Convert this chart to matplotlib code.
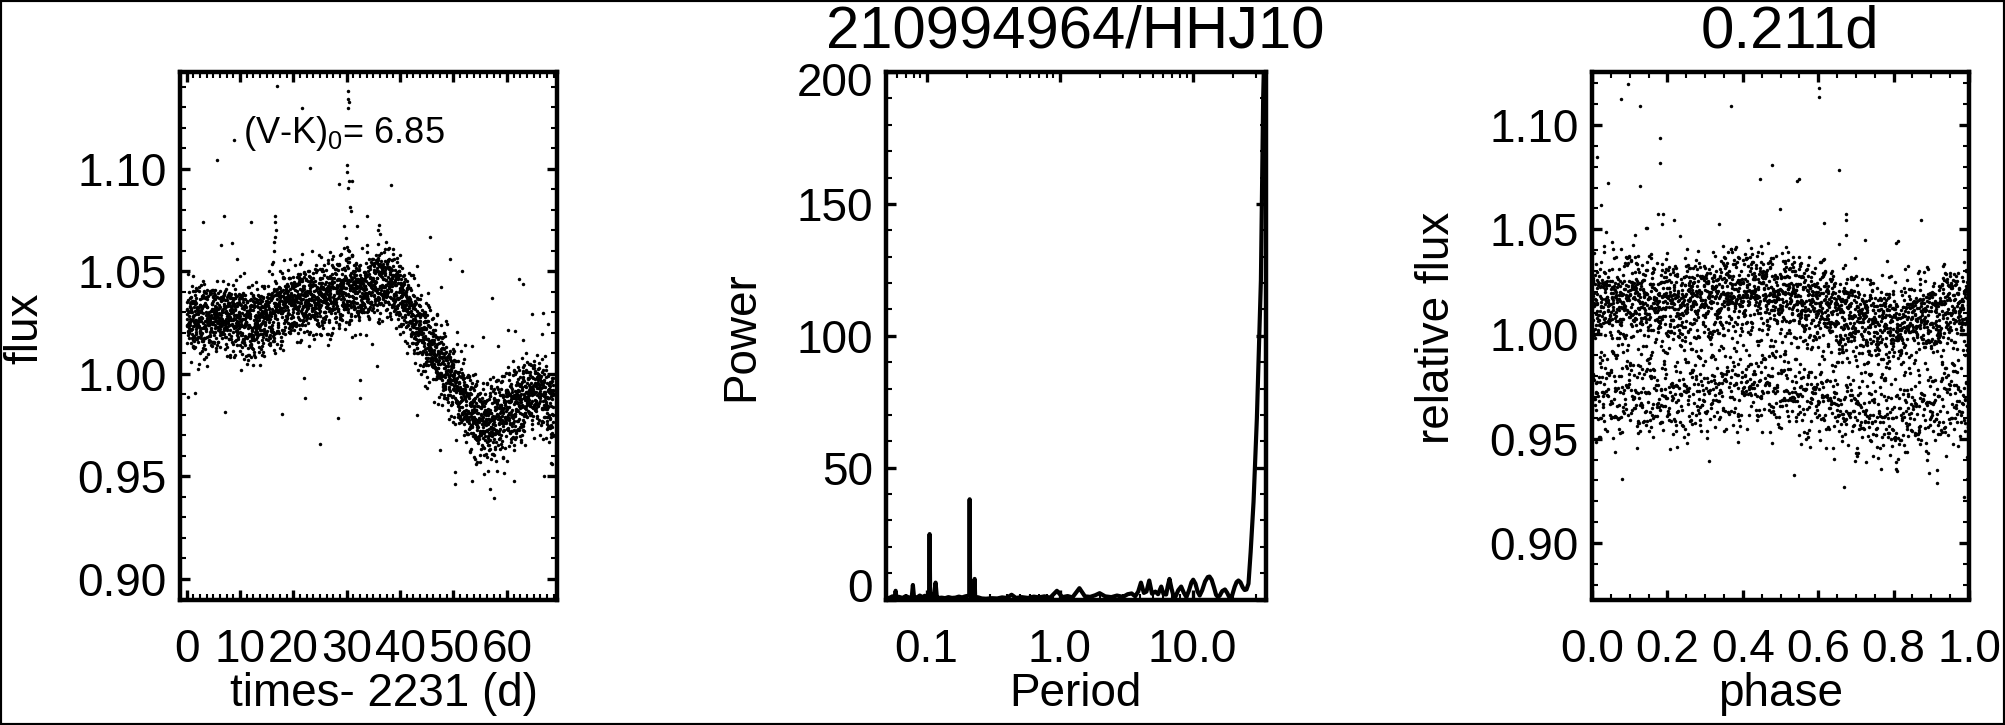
import numpy as np
import matplotlib
matplotlib.use("Agg")
import matplotlib.pyplot as plt
from matplotlib.ticker import MultipleLocator, AutoMinorLocator, FixedLocator, FixedFormatter, LogLocator, NullFormatter
from matplotlib.transforms import ScaledTranslation
from matplotlib.patches import Rectangle

plt.rcParams['font.family'] = ['Liberation Sans', 'DejaVu Sans']
plt.rcParams['mathtext.fontset'] = 'custom'
plt.rcParams['mathtext.rm'] = 'Liberation Sans'

star_name = "210994964/HHJ10"
period_best = 0.211
vk0 = 6.85
t_offset = 2231

# light curve (left panel), K2 long cadence
cadence = 0.0204336
t_start, t_end = 0.0, 68.75
trend_day = [0, 3, 6, 9, 12, 15, 18, 21, 24, 27, 30, 33, 36, 38, 40, 42, 44, 46, 48, 50,
             52, 54, 56, 58, 60, 62, 64, 66, 68, 69]
trend_flux = [1.027, 1.026, 1.028, 1.028, 1.024, 1.028, 1.033, 1.036, 1.036, 1.038, 1.041,
              1.040, 1.045, 1.045, 1.039, 1.030, 1.020, 1.012, 1.004, 0.996,
              0.987, 0.979, 0.976, 0.978, 0.982, 0.985, 0.990, 0.992, 0.985, 0.983]
scatter_day = [0, 44, 48, 69]
scatter_sig = [0.0078, 0.0078, 0.0088, 0.0088]
resid_a = [0.12, -0.85, 1.34, -0.27, 0.56, -1.62, 0.03, 0.91, -0.44, 2.05,
           -0.08, -1.15, 0.38, 0.71, -0.63, 1.58, -0.19, -2.21, 0.47, -0.95,
           0.25, 1.12, -0.36, -0.02, 0.84, -1.38, 0.61, -0.71, 1.87, -0.13,
           0.33, -0.52, -1.01, 0.09, 1.45, -0.29, 0.66, -1.79, 0.18, -0.58,
           1.03, -0.06, -0.89, 0.42, 2.38, -1.24, 0.77, -0.32, 0.15, -0.67,
           1.21, -1.49, 0.52, -0.11, 0.95, -0.41, -2.02, 0.29, 0.64, -0.79,
           1.69, -0.23, 0.06, -1.08, 0.88, -0.48, 1.29, -0.16, -0.74, 0.36,
           -1.31, 0.58, 1.76, -0.04, -0.93, 0.21, -0.55, 1.08, -1.92, 0.44,
           0.01, -0.38, 0.73, -1.19, 1.41, -0.26, 0.99, -0.62, -0.09, 0.27,
           -1.55, 0.81, -0.34, 1.95, -0.81, 0.14, -0.46, 0.69, -1.05, 0.49]
resid_b = [0.41, -1.22, 0.07, 0.93, -0.35, 1.61, -0.72, -0.14, 0.55, -1.87,
           0.26, 1.18, -0.51, 0.02, -0.98, 2.11, -0.21, 0.68, -0.63, 0.34,
           -1.41, 0.87, -0.05, 1.32, -0.84, 0.17, -0.29, 0.61, -1.08, 0.48,
           -0.42, 1.02, -2.05, 0.19, 0.76, -0.57, -0.11]
# 0.211 d modulation seen in the folded panel
phase_grid = [0.0, 0.1, 0.2, 0.3, 0.4, 0.5, 0.6, 0.7, 0.8, 0.9, 1.0]
phase_bump = [0.001, 0.003, 0.000, 0.003, 0.007, 0.005, 0.000, -0.006, -0.010, -0.005, 0.001]
# points off the main band
out_t = [16.9, 30.3, 30.3, 30.4, 21.6, 30.2, 5.7, 8.9, 23.1, 30.0, 30.1, 30.5, 30.2, 30.6,
         30.7, 28.6, 30.9, 38.2, 7.0, 3.0, 12.0, 16.6, 16.6, 16.7, 16.6, 16.4, 16.3, 6.5,
         8.4, 9.4, 33.8, 36.0, 35.9, 36.3, 45.6, 49.4, 51.6, 57.2, 62.2, 63.1, 64.7, 66.7,
         67.8, 60.3, 61.6, 58.4, 55.5, 53.4, 63.1, 45.3, 47.6, 0.3, 1.6, 7.1, 22.2, 32.5,
         32.4, 35.6, 22.0, 17.8, 28.4, 43.1, 24.9, 47.5, 50.2, 50.2, 53.4, 56.9, 57.6,
         67.0, 68.3, 61.4, 31.9, 29.4, 29.8, 30.1, 30.4]
out_f = [1.1402, 1.1380, 1.1338, 1.1326, 1.1296, 1.1296, 1.1045, 1.1140, 1.1006, 1.1017,
         1.0982, 1.0941, 1.0904, 1.0814, 1.0794, 1.0928, 1.0941, 1.0920, 1.0769, 1.0738,
         1.0738, 1.0769, 1.0741, 1.0700, 1.0668, 1.0643, 1.0600, 1.0629, 1.0636, 1.0560,
         1.0769, 1.0725, 1.0700, 1.0680, 1.0665, 1.0562, 1.0502, 1.0372, 1.0460, 1.0440,
         1.0291, 1.0297, 1.0242, 1.0213, 1.0208, 1.0135, 1.0180, 1.0136, 1.0164, 1.0395,
         1.0421, 0.9887, 0.9904, 0.9814, 0.9884, 0.9884, 0.9969, 1.0040, 0.9977, 0.9803,
         0.9782, 0.9798, 0.9658, 0.9628, 0.9522, 0.9461, 0.9477, 0.9439, 0.9393, 0.9500,
         0.9567, 0.9477, 1.0720, 1.0720, 1.0660, 1.0620, 1.0600]

# periodogram (middle panel)
per_period = [0.0496, 0.052, 0.0555, 0.0578, 0.0586, 0.0594, 0.062, 0.066, 0.070, 0.074,
              0.0775, 0.0790, 0.0805, 0.085, 0.089, 0.093, 0.097, 0.101, 0.1045, 0.1055,
              0.1065, 0.110, 0.1135, 0.117, 0.1195, 0.124, 0.130, 0.138, 0.146, 0.155,
              0.165, 0.175, 0.185, 0.196, 0.2095, 0.2110, 0.2125, 0.218, 0.228, 0.230,
              0.232, 0.245, 0.26, 0.28, 0.31, 0.34, 0.37, 0.40, 0.436, 0.47,
              0.52, 0.58, 0.64, 0.70, 0.77, 0.85, 0.955, 1.05, 1.15, 1.25,
              1.41, 1.55, 1.70, 1.85, 2.00, 2.2, 2.45, 2.7, 3.0, 3.25,
              3.48, 3.7, 3.9, 4.09, 4.3, 4.5, 4.72, 4.95, 5.25, 5.5,
              5.81, 6.05, 6.33, 6.5, 6.7, 6.95, 7.2, 7.44, 7.8, 8.2,
              8.6, 8.98, 9.4, 9.8, 10.1, 10.5, 10.9, 11.3, 11.8, 12.4,
              13.0, 13.4, 13.9, 14.5, 15.0, 15.5, 16.0, 16.7, 17.5, 18.2,
              19.1, 19.8, 20.7, 21.4, 22.1, 22.9, 23.8, 24.6, 25.4, 26.3,
              27.3, 28.7, 30.4, 32.6, 33.9, 34.8]
per_power = [0.8, 0.5, 1.2, 0.6, 3.3, 0.6, 1.0, 0.6, 1.3, 0.7,
             1.0, 5.5, 1.0, 0.8, 1.5, 0.9, 1.4, 0.8, 1.2, 24.8,
             1.2, 2.0, 1.0, 6.4, 1.0, 0.6, 0.7, 0.5, 0.9, 0.6,
             0.7, 1.1, 0.8, 1.2, 1.5, 38.0, 1.5, 1.0, 1.0, 7.8,
             1.0, 0.8, 0.4, 0.3, 0.5, 0.4, 0.8, 0.6, 1.8, 0.6,
             0.9, 0.6, 1.1, 0.8, 1.2, 0.7, 3.3, 0.9, 1.3, 0.8,
             4.3, 1.2, 1.0, 1.6, 2.4, 1.2, 0.9, 1.5, 1.0, 2.0,
             2.3, 1.2, 3.0, 6.4, 2.5, 3.0, 7.2, 2.2, 3.0, 2.0,
             4.9, 2.0, 1.9, 5.0, 7.8, 4.0, 1.1, 1.1, 3.5, 4.9,
             2.5, 0.9, 3.5, 6.5, 7.5, 6.0, 3.0, 1.5, 3.5, 6.8,
             8.5, 8.7, 7.5, 4.5, 1.8, 0.9, 1.5, 3.2, 3.8, 2.5,
             0.3, 1.5, 4.8, 6.6, 7.2, 6.5, 4.6, 3.6, 3.8, 6.0,
             18.0, 37.0, 68.6, 121.0, 190.0, 215.0]

# build the light curve and the folded curve
t = np.arange(t_start, t_end, cadence)
k = np.arange(len(t))
ra = np.array(resid_a)[(k * 37) % len(resid_a)]
rb = np.array(resid_b)[(k * 5) % len(resid_b)]
resid = (ra + rb) / np.sqrt(2.0)
flux = (np.interp(t, trend_day, trend_flux)
        + np.interp(t, scatter_day, scatter_sig) * resid
        + np.interp((t / period_best) % 1.0, phase_grid, phase_bump))
t_all = np.concatenate([t, out_t])
f_all = np.concatenate([flux, out_f])
phase = (t_all / period_best) % 1.0
rel_flux = f_all / f_all.mean()

W, H = 2005, 725
fig = plt.figure(figsize=(W / 100, H / 100), dpi=100)
bot = 1 - 599.5 / H
hgt = 527.5 / H
ax1 = fig.add_axes([180 / W, bot, 377 / W, hgt])
ax2 = fig.add_axes([886 / W, bot, 379.5 / W, hgt])
ax3 = fig.add_axes([1592 / W, bot, 377 / W, hgt])

tick_fs = 33
for ax in (ax1, ax2, ax3):
    for sp in ax.spines.values():
        sp.set_linewidth(3.2)
    ax.tick_params(which='both', direction='in', top=True, right=True, labelsize=tick_fs)
    ax.tick_params(which='major', length=7.5, width=2.4)
    ax.tick_params(which='minor', length=4.5, width=1.5)
    ax.tick_params(axis='x', pad=20.5)
    ax.tick_params(axis='y', pad=9.4)

# left: light curve
ax1.plot(t_all, f_all, 'o', color='black', ms=2.5, mew=0)
ax1.set_xlim(-1.26, 69.4)
ax1.set_ylim(0.8899, 1.1472)
ax1.xaxis.set_major_locator(MultipleLocator(10))
ax1.xaxis.set_minor_locator(AutoMinorLocator(8))
ax1.yaxis.set_major_locator(MultipleLocator(0.05))
ax1.yaxis.set_minor_locator(AutoMinorLocator(5))
ax1.yaxis.set_major_formatter(plt.FormatStrFormatter('%.2f'))
ax1.set_xlabel(f"times- {t_offset} (d)", fontsize=tick_fs)
ax1.set_ylabel("flux", fontsize=tick_fs)
ax1.xaxis.set_label_coords(0.541, -0.202)
ax1.yaxis.set_label_coords(-0.411, 0.515)
ax1.text(10.5, 1.1126, r"(V-K)$_\mathregular{0}$= " + f"{vk0:.2f}", fontsize=26, va='baseline')

# middle: periodogram
ax2.plot(per_period, per_power, color='black', lw=3.0)
ax2.set_xscale('log')
ax2.set_xlim(0.0496, 35.3)
ax2.set_ylim(0, 200)
ax2.xaxis.set_major_locator(FixedLocator([0.1, 1.0, 10.0]))
ax2.xaxis.set_major_formatter(FixedFormatter(["0.1", "1.0", "10.0"]))
ax2.xaxis.set_minor_locator(LogLocator(base=10, subs=np.arange(2, 10), numticks=20))
ax2.xaxis.set_minor_formatter(NullFormatter())
ax2.yaxis.set_major_locator(MultipleLocator(50))
ax2.yaxis.set_minor_locator(AutoMinorLocator(5))
ax2.set_xlabel("Period", fontsize=tick_fs)
ax2.set_ylabel("Power", fontsize=tick_fs)
ax2.xaxis.set_label_coords(0.5, -0.202)
ax2.yaxis.set_label_coords(-0.382, 0.4986)
ax2.set_title(star_name, fontsize=43, pad=18, x=0.498)

# right: folded light curve
ax3.plot(phase, rel_flux, 'o', color='black', ms=2.5, mew=0)
ax3.set_xlim(0, 1.0)
ax3.set_ylim(0.8731, 1.1252)
ax3.xaxis.set_major_locator(MultipleLocator(0.2))
ax3.xaxis.set_minor_locator(AutoMinorLocator(4))
ax3.xaxis.set_major_formatter(plt.FormatStrFormatter('%.1f'))
ax3.yaxis.set_major_locator(MultipleLocator(0.05))
ax3.yaxis.set_minor_locator(AutoMinorLocator(5))
ax3.yaxis.set_major_formatter(plt.FormatStrFormatter('%.2f'))
ax3.set_xlabel("phase", fontsize=tick_fs)
ax3.set_ylabel("relative flux", fontsize=tick_fs)
ax3.xaxis.set_label_coords(0.5, -0.202)
ax3.yaxis.set_label_coords(-0.411, 0.515)
ax3.set_title(f"{period_best:.3f}d", fontsize=43, pad=18, x=0.525)

for ax in (ax1, ax2, ax3):
    ax.xaxis.label.set_va('baseline')
    ax.yaxis.label.set_va('center')

# end labels of the power axis sit inside the frame
fig.canvas.draw()
yt = ax2.yaxis.get_major_ticks()
for tk, val in zip(yt, ax2.get_yticks()):
    if val == 0:
        tk.label1.set_transform(tk.label1.get_transform() + ScaledTranslation(0, 0.14, fig.dpi_scale_trans))
    elif val == 200:
        tk.label1.set_transform(tk.label1.get_transform() + ScaledTranslation(0, -0.07, fig.dpi_scale_trans))

fig.patches.append(Rectangle((0, 0), 1, 1, transform=fig.transFigure, fill=False,
                             lw=3, ec='black'))
fig.savefig("out.png", dpi=100)
